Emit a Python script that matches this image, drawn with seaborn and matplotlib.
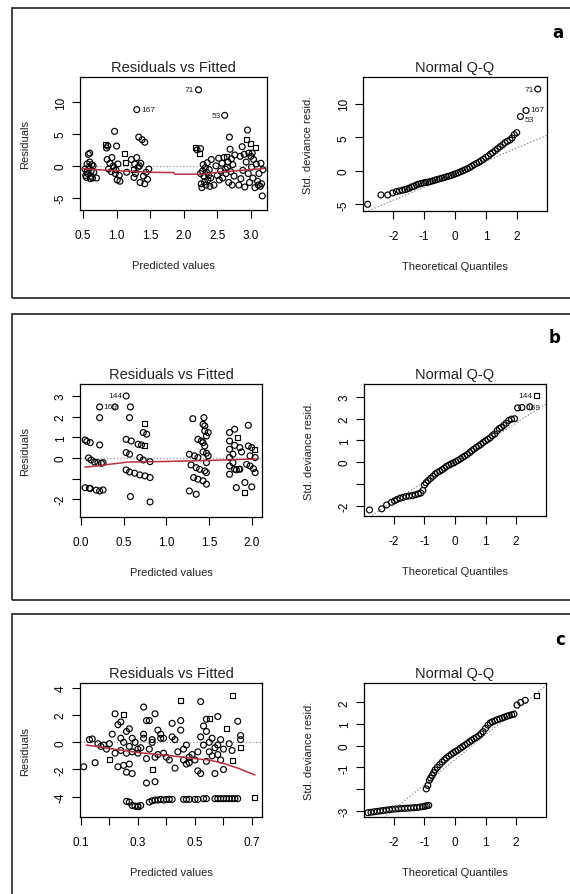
import matplotlib
matplotlib.use("Agg")
import matplotlib.pyplot as plt
import seaborn as sns
import pandas as pd
from matplotlib.patches import Rectangle

# === data ===
# panel a - residuals vs fitted
a_pts = [
    (0.53, -0.5), (0.55, -1.8), (0.56, 0.3), (0.57, -1.2), (0.58, 1.8), (0.60, 2.0), (0.61, -2.0),
    (0.62, -0.8), (0.63, 0.2), (0.54, -1.5), (0.59, -0.2), (0.64, -1.9), (0.66, -1.0), (0.60, 0.6),
    (0.62, -1.6), (0.70, -1.9), (0.56, -0.9), (0.65, 0.0),
    (0.85, 2.8), (0.87, 3.1), (0.86, 1.0), (0.88, -0.5), (0.90, 0.4), (0.92, -0.9), (0.95, 0.0),
    (0.97, 5.4), (0.98, -1.2), (1.00, 3.1), (1.01, -2.2), (1.02, 0.3), (1.04, -1.5), (0.96, -0.3),
    (0.93, 1.3), (1.05, -2.4), (0.99, -0.6),
    (1.15, -1.0), (1.22, 1.0), (1.27, 0.3), (1.28, -1.2), (1.30, 8.8), (1.30, 1.3),
    (1.32, -0.2), (1.33, 4.5), (1.35, -2.6), (1.36, 0.4), (1.38, 4.1), (1.40, -1.6), (1.42, 3.7),
    (1.42, -2.8), (1.44, -1.0), (1.46, -2.1), (1.48, -0.5), (1.26, -1.8), (1.34, 0.0),
    (2.20, 2.5), (2.22, 11.9), (2.25, 2.7), (2.25, -1.2), (2.26, -2.8), (2.27, -3.4),
    (2.28, -0.8), (2.29, 0.2), (2.30, -1.6), (2.31, -2.5), (2.32, -0.3), (2.33, -3.0), (2.34, -1.0),
    (2.35, 0.5), (2.36, -2.2), (2.37, -1.5), (2.38, -0.6), (2.40, -1.9), (2.41, 1.0), (2.39, -3.2),
    (2.45, -3.0), (2.48, 0.0), (2.50, -1.5), (2.52, 1.2), (2.53, -2.2), (2.55, -0.8), (2.57, 0.4),
    (2.58, -1.9), (2.60, 1.3), (2.61, 7.9), (2.62, -0.5), (2.63, -1.2), (2.66, 0.6),
    (2.67, -2.6), (2.68, 4.5), (2.69, 2.6), (2.70, -0.9), (2.71, 1.1), (2.72, -3.0), (2.73, 0.2),
    (2.75, -1.6), (2.76, 1.7), (2.65, -0.2),
    (2.82, -3.0), (2.84, 1.5), (2.85, -2.0), (2.87, 3.0), (2.88, -0.7), (2.90, 1.8), (2.91, -3.3),
    (2.93, 0.6), (2.95, 5.6), (2.96, -1.2), (2.97, 2.0), (2.98, -2.6), (3.00, 1.5),
    (3.01, -0.2), (3.02, 2.0), (3.03, -1.9), (3.04, 1.0), (3.06, -3.4), (3.08, 0.3),
    (3.10, -2.4), (3.12, -1.2), (3.14, -3.2), (3.15, 0.4), (3.16, -2.8), (3.17, -4.7), (3.18, -0.6),
    (3.11, -3.0),
]
a_sq = [(0.83, 3.4), (1.12, 2.0), (1.13, 0.5), (1.25, -0.5), (2.17, 2.8), (2.23, 2.0),
        (2.64, 1.4), (2.93, 4.1), (3.00, 3.5), (3.07, 2.8)]
a_lowess = [(0.5, -0.45), (0.8, -0.65), (1.2, -0.85), (1.5, -1.0), (1.85, -1.05), (1.87, -1.3),
            (2.3, -1.3), (2.5, -1.0), (2.8, -0.75), (3.2, -0.4)]
a_labels = [(1.30, 8.8, "167", "right"), (2.22, 11.9, "71", "left"), (2.61, 7.9, "53", "left")]

# panel a - normal Q-Q
a_qq = [
    (-2.83, -5.0), (-2.40, -3.6), (-2.18, -3.6), (-2.02, -3.3), (-1.90, -3.1), (-1.80, -3.0),
    (-1.70, -2.9), (-1.62, -2.8), (-1.55, -2.7), (-1.48, -2.6), (-1.40, -2.4), (-1.32, -2.3),
    (-1.25, -2.1), (-1.18, -2.0), (-1.10, -1.9), (-1.02, -1.8), (-0.95, -1.75), (-0.88, -1.7),
    (-0.80, -1.6), (-0.72, -1.5), (-0.65, -1.4), (-0.58, -1.3), (-0.50, -1.2), (-0.42, -1.1),
    (-0.35, -1.0), (-0.28, -0.9), (-0.20, -0.8), (-0.12, -0.7), (-0.05, -0.55), (0.02, -0.45),
    (0.10, -0.3), (0.18, -0.15), (0.25, 0.0), (0.32, 0.15), (0.40, 0.3), (0.48, 0.5),
    (0.55, 0.7), (0.62, 0.9), (0.70, 1.1), (0.78, 1.3), (0.85, 1.5), (0.92, 1.7),
    (1.00, 2.0), (1.08, 2.2), (1.15, 2.5), (1.22, 2.7), (1.30, 3.0), (1.38, 3.3),
    (1.46, 3.6), (1.55, 3.9), (1.62, 4.2), (1.70, 4.4), (1.78, 4.6), (1.85, 4.9),
    (1.92, 5.4), (2.00, 5.7), (2.12, 8.1), (2.30, 9.0), (2.68, 12.2),
]
a_qq_ref = [(-3.0, -6.35), (3.0, 5.35)]
a_qq_labels = [(2.68, 12.2, "71", "left"), (2.30, 9.2, "167", "right"), (2.12, 7.7, "53", "right")]

# panel b - residuals vs fitted
b_pts = [
    (0.05, 0.87), (0.07, 0.80), (0.11, 0.74), (0.09, 0.00), (0.12, -0.10), (0.16, -0.20),
    (0.20, -0.23), (0.24, -0.26), (0.26, -0.23), (0.22, 0.63), (0.22, 1.95), (0.05, -1.44),
    (0.10, -1.47), (0.11, -1.48), (0.18, -1.56), (0.22, -1.60), (0.26, -1.55), (0.22, 2.47),
    (0.40, 2.47),
    (0.53, 3.00), (0.58, 2.47), (0.57, 1.95), (0.53, 0.90), (0.59, 0.82), (0.67, 0.66),
    (0.71, 0.63), (0.73, 1.23), (0.77, 1.15), (0.53, 0.26), (0.57, 0.18), (0.69, 0.02),
    (0.73, -0.10), (0.81, -0.18), (0.53, -0.58), (0.57, -0.68), (0.63, -0.74), (0.69, -0.82),
    (0.75, -0.87), (0.81, -0.95), (0.58, -1.87), (0.81, -2.13),
    (1.31, 1.90), (1.44, 1.95), (1.43, 1.63), (1.45, 1.55), (1.47, 1.06), (1.49, 1.23),
    (1.37, 0.90), (1.41, 0.82), (1.43, 0.74), (1.45, 0.58), (1.27, 0.18), (1.33, 0.10),
    (1.37, 0.02), (1.43, 0.29), (1.47, 0.23), (1.49, 0.10), (1.29, -0.34), (1.35, -0.47),
    (1.39, -0.55), (1.45, -0.63), (1.47, -0.71), (1.32, -0.95), (1.37, -1.03), (1.43, -1.11),
    (1.47, -1.27), (1.27, -1.60), (1.35, -1.76), (1.47, -0.23), (1.45, 1.31),
    (1.74, 1.23), (1.80, 1.39), (1.74, 0.82), (1.80, 0.61), (1.86, 0.50), (1.74, 0.42),
    (1.78, 0.18), (1.88, 0.29), (1.96, 1.58), (1.96, 0.58), (2.00, 0.50), (1.98, 0.10),
    (2.04, 0.02), (1.74, -0.39), (1.80, -0.55), (1.82, -0.58), (1.86, -0.55), (1.94, -0.31),
    (1.98, -0.39), (2.02, -0.52), (2.04, -0.71), (1.74, -0.79), (1.82, -1.44), (1.92, -1.19),
    (2.00, -1.40), (1.78, -0.23), (1.74, 0.02),
]
b_sq = [(0.74, 1.68), (0.75, 0.58), (1.83, 0.98), (1.92, -1.68), (2.03, 0.40), (1.85, -0.50)]
b_lowess = [(0.05, -0.45), (0.2, -0.38), (0.35, -0.3), (0.55, -0.2), (1.0, -0.17),
            (1.5, -0.12), (2.05, -0.05)]
b_labels = [(0.53, 3.0, "144", "left"), (0.22, 2.47, "169", "right")]

# panel b - normal Q-Q
b_qq = [
    (-2.80, -2.20), (-2.40, -2.15), (-2.24, -1.97), (-2.08, -1.85), (-1.98, -1.78), (-1.90, -1.72),
    (-1.80, -1.66), (-1.70, -1.62), (-1.60, -1.58), (-1.50, -1.56), (-1.40, -1.54), (-1.30, -1.50),
    (-1.20, -1.46), (-1.12, -1.42), (-1.05, -1.30), (-1.00, -1.05), (-0.95, -0.95), (-0.88, -0.85),
    (-0.80, -0.75), (-0.72, -0.65), (-0.65, -0.55), (-0.58, -0.48), (-0.50, -0.42), (-0.42, -0.35),
    (-0.35, -0.28), (-0.28, -0.20), (-0.20, -0.14), (-0.12, -0.08), (-0.05, -0.04), (0.02, 0.02),
    (0.10, 0.08), (0.18, 0.15), (0.25, 0.22), (0.32, 0.28), (0.40, 0.35), (0.48, 0.44),
    (0.55, 0.52), (0.62, 0.60), (0.70, 0.68), (0.78, 0.75), (0.85, 0.82), (0.92, 0.90),
    (1.00, 0.98), (1.08, 1.05), (1.15, 1.12), (1.22, 1.22), (1.30, 1.30), (1.38, 1.45),
    (1.45, 1.55), (1.52, 1.60), (1.60, 1.70), (1.68, 1.80), (1.76, 1.92), (1.85, 1.98),
    (1.95, 2.00), (2.05, 2.50), (2.19, 2.52), (2.45, 2.55),
]
b_qq_sq = [(2.68, 3.05)]
b_qq_ref = [(-3.0, -2.7), (3.0, 2.7)]
b_qq_labels = [(2.68, 3.05, "144", "left"), (2.19, 2.52, "169", "right")]

# panel c - residuals vs fitted
c_pts = [
    (0.11, -1.8), (0.13, 0.2), (0.14, 0.25), (0.15, -1.5), (0.16, -0.1), (0.17, -0.3), (0.18, -0.2),
    (0.19, -0.5), (0.20, -0.1), (0.21, 0.6), (0.22, 2.1), (0.22, -0.8), (0.23, 1.3),
    (0.23, -1.8), (0.24, 0.3), (0.24, 1.5), (0.24, -0.6), (0.25, -1.7), (0.25, 0.0),
    (0.26, 0.8), (0.26, -0.8), (0.26, -2.2), (0.27, 1.0), (0.27, -0.3), (0.27, -1.6), (0.28, -2.3),
    (0.28, 0.3), (0.28, -0.7), (0.29, 0.0), (0.30, -0.5), (0.30, -0.8), (0.31, -0.4), (0.32, 0.6),
    (0.32, 2.6), (0.32, 0.3), (0.33, 1.6), (0.33, -1.2), (0.33, -3.0), (0.34, 1.6), (0.34, -0.5),
    (0.35, 0.2), (0.35, 0.0), (0.36, -1.1), (0.36, 2.1), (0.36, -2.9), (0.37, 0.9), (0.37, -0.9),
    (0.38, 0.3), (0.38, 0.6), (0.39, 0.3), (0.39, -0.8), (0.40, -1.1), (0.41, -1.3), (0.42, 0.4),
    (0.42, 1.4), (0.43, -1.9), (0.43, 0.2), (0.44, -0.7), (0.45, 0.9), (0.45, 1.6),
    (0.46, -1.3), (0.46, -0.5), (0.47, -1.6), (0.47, -0.2), (0.48, -1.1), (0.48, -1.5),
    (0.49, -0.9), (0.50, -1.3), (0.51, -2.1), (0.51, -0.7), (0.52, 3.0), (0.52, 0.4), (0.52, -2.3),
    (0.53, 1.2), (0.53, -0.2), (0.54, 0.8), (0.54, 1.7), (0.54, -1.4), (0.55, 0.0),
    (0.55, -0.7), (0.56, -1.0), (0.56, 0.3), (0.57, -0.4), (0.57, -2.3), (0.58, 1.9), (0.58, -0.2),
    (0.58, -0.9), (0.59, 0.2), (0.59, -1.3), (0.60, -2.0), (0.60, -0.5), (0.62, -0.1),
    (0.63, -0.6), (0.65, 1.55), (0.66, 0.5), (0.66, 0.2),
    (0.26, -4.35), (0.27, -4.4), (0.28, -4.65), (0.29, -4.7), (0.30, -4.7), (0.31, -4.65),
    (0.34, -4.4), (0.35, -4.3), (0.36, -4.25), (0.37, -4.25), (0.38, -4.2), (0.39, -4.25),
    (0.40, -4.2), (0.41, -4.2), (0.42, -4.2), (0.46, -4.2), (0.47, -4.2), (0.48, -4.2),
    (0.50, -4.2), (0.51, -4.2), (0.53, -4.15), (0.54, -4.15), (0.57, -4.15), (0.58, -4.15),
    (0.59, -4.15), (0.60, -4.15), (0.61, -4.15), (0.62, -4.15), (0.63, -4.15), (0.64, -4.15),
    (0.65, -4.15),
]
c_sq = [(0.45, 3.1), (0.63, 3.45), (0.61, 1.05), (0.63, -1.35), (0.35, -2.0), (0.25, 2.05),
        (0.20, -1.25), (0.55, 1.75), (0.66, -0.4), (0.71, -4.05), (0.30, -4.75)]
c_lowess = [(0.12, -0.2), (0.2, -0.45), (0.3, -0.75), (0.4, -0.95), (0.5, -1.2), (0.55, -1.3),
            (0.6, -1.55), (0.65, -1.9), (0.71, -2.4)]

# panel c - normal Q-Q
c_qq = [
    (-2.85, -3.10), (-2.75, -3.08), (-2.65, -3.06), (-2.55, -3.04), (-2.45, -3.02), (-2.35, -3.00),
    (-2.25, -2.98), (-2.15, -2.96), (-2.05, -2.94), (-1.95, -2.93), (-1.85, -2.92), (-1.75, -2.91),
    (-1.65, -2.90), (-1.55, -2.89), (-1.45, -2.88), (-1.35, -2.87), (-1.25, -2.86), (-1.15, -2.84),
    (-1.05, -2.82), (-0.98, -2.80), (-0.92, -2.78), (-0.86, -2.76),
    (-0.94, -2.00), (-0.89, -1.84), (-0.84, -1.60), (-0.80, -1.50), (-0.75, -1.38), (-0.70, -1.25),
    (-0.65, -1.12), (-0.58, -1.00), (-0.50, -0.88), (-0.42, -0.76), (-0.35, -0.66), (-0.28, -0.57),
    (-0.20, -0.48), (-0.12, -0.40), (-0.05, -0.33), (0.02, -0.27), (0.10, -0.20), (0.18, -0.12),
    (0.25, -0.05), (0.32, 0.02), (0.40, 0.10), (0.48, 0.18), (0.55, 0.25), (0.62, 0.32),
    (0.70, 0.38), (0.78, 0.46), (0.85, 0.55), (0.92, 0.65), (1.00, 0.80), (1.08, 0.95),
    (1.15, 1.05), (1.22, 1.10), (1.30, 1.15), (1.38, 1.20), (1.46, 1.24), (1.55, 1.28),
    (1.62, 1.32), (1.70, 1.36), (1.78, 1.40), (1.86, 1.43), (1.93, 1.46), (2.03, 1.88),
    (2.15, 2.00), (2.30, 2.10),
]
c_qq_sq = [(2.68, 2.34)]
c_qq_ref = [(-3.0, -4.1), (3.0, 2.8)]

plt.rcParams["font.family"] = ["Liberation Sans", "DejaVu Sans"]
plt.rcParams["axes.unicode_minus"] = False

W, H = 570, 895
fig = plt.figure(figsize=(W / 100, H / 100), dpi=100)
fig.patch.set_facecolor("white")


def px_axes(l, t, r, b):
    return fig.add_axes([l / W, 1 - b / H, (r - l) / W, (b - t) / H])


def scatter(ax, pts, marker, s):
    if not pts:
        return
    df = pd.DataFrame(pts, columns=["x", "y"])
    sns.scatterplot(data=df, x="x", y="y", ax=ax, marker=marker, s=s,
                    facecolor="none", edgecolor="black", linewidth=0.85, zorder=3)


def line(ax, pts, **kw):
    df = pd.DataFrame(pts, columns=["x", "y"])
    sns.lineplot(data=df, x="x", y="y", ax=ax, sort=False, estimator=None, **kw)


def label_points(ax, labels):
    for x, y, txt, side in labels:
        dx = 3 if side == "right" else -3
        ax.annotate(txt, (x, y), xytext=(dx, 0), textcoords="offset points",
                    ha="left" if side == "right" else "right", va="center",
                    fontsize=6, color="#222222")


def style(ax, box, title, xlab, ylab, xlim, ylim, xt, xtl, yt, ytl):
    l, t, r, b = box
    ax.set_xlim(xlim)
    ax.set_ylim(ylim)
    ax.set_xticks(xt)
    ax.set_xticklabels(xtl)
    ax.set_yticks(yt)
    ax.set_yticklabels(ytl, rotation=90, va="center")
    ax.tick_params(direction="out", length=5.5, width=0.8, labelsize=8.5, colors="black")
    ax.tick_params(axis="x", pad=8)
    ax.tick_params(axis="y", pad=4)
    for sp in ax.spines.values():
        sp.set_linewidth(0.9)
        sp.set_color("black")
    ax.set_title(title, fontsize=10.5, pad=4, color="#222222")
    ax.set_xlabel(xlab, fontsize=8, color="#222222")
    ax.set_ylabel(ylab, fontsize=8, color="#222222")
    ax.xaxis.set_label_coords(0.5, -55 / (b - t))
    ax.xaxis.label.set_va("center")
    ax.yaxis.set_label_coords(-55 / (r - l), 0.5)
    ax.yaxis.label.set_va("center")


def resid_panel(box, pts, sq, lowess, labels, xlim, ylim, xt, xtl, yt, ytl):
    ax = px_axes(*box)
    ax.axhline(0, color="#9a9a9a", ls=":", lw=0.9, zorder=1)
    scatter(ax, pts, "o", 18)
    scatter(ax, sq, "s", 13)
    line(ax, lowess, color="#b5313f", lw=1.1, zorder=4)
    label_points(ax, labels)
    style(ax, box, "Residuals vs Fitted", "Predicted values", "Residuals",
          xlim, ylim, xt, xtl, yt, ytl)


def qq_panel(box, pts, sq, ref, labels, ylim, yt, ytl):
    ax = px_axes(*box)
    line(ax, ref, color="#8a8a8a", lw=0.9, ls=":", zorder=1)
    scatter(ax, pts, "o", 18)
    scatter(ax, sq, "s", 13)
    label_points(ax, labels)
    style(ax, box, "Normal Q-Q", "Theoretical Quantiles", "Std. deviance resid.",
          (-2.98, 2.98), ylim, [-2, -1, 0, 1, 2], ["-2", "-1", "0", "1", "2"], yt, ytl)


# outer frames of the three figure parts
for top, bottom in [(9, 299), (315, 601), (615, 900)]:
    fig.patches.append(Rectangle((12 / W, 1 - bottom / H), (575 - 12) / W, (bottom - top) / H,
                                 transform=fig.transFigure, fill=False,
                                 edgecolor="#333333", lw=1.3))

resid_panel((80, 78, 267, 211), a_pts, a_sq, a_lowess, a_labels,
            (0.455, 3.24), (-6.9, 13.9),
            [0.5, 1.0, 1.5, 2.0, 2.5, 3.0], ["0.5", "1.0", "1.5", "2.0", "2.5", "3.0"],
            [-5, 0, 5, 10], ["-5", "0", "5", "10"])
qq_panel((363, 78, 547, 212), a_qq, [], a_qq_ref, a_qq_labels,
         (-6.0, 14.0), [-5, 0, 5, 10], ["-5", "0", "5", "10"])

resid_panel((80, 385, 262, 518), b_pts, b_sq, b_lowess, b_labels,
            (-0.01, 2.12), (-2.86, 3.58),
            [0.0, 0.5, 1.0, 1.5, 2.0], ["0.0", "0.5", "1.0", "1.5", "2.0"],
            [-2, -1, 0, 1, 2, 3], ["-2", "", "0", "1", "2", "3"])
qq_panel((364, 385, 546, 517), b_qq, b_qq_sq, b_qq_ref, b_qq_labels,
         (-2.48, 3.6), [-2, -1, 0, 1, 2, 3], ["-2", "", "0", "1", "2", "3"])

resid_panel((80, 684, 262, 818), c_pts, c_sq, c_lowess, [],
            (0.097, 0.735), (-5.5, 4.37),
            [0.1, 0.2, 0.3, 0.4, 0.5, 0.6, 0.7], ["0.1", "", "0.3", "", "0.5", "", "0.7"],
            [-4, -2, 0, 2, 4], ["-4", "-2", "0", "2", "4"])
qq_panel((364, 684, 546, 818), c_qq, c_qq_sq, c_qq_ref, [],
         (-3.3, 2.9), [-3, -2, -1, 0, 1, 2], ["-3", "", "-1", "0", "1", "2"])

for x, y, letter in [(558, 33, "a"), (555, 338, "b"), (560, 640, "c")]:
    fig.text(x / W, 1 - y / H, letter, fontsize=12, fontweight="bold",
             ha="center", va="center", family="DejaVu Sans")

fig.savefig("out.png", dpi=100, facecolor="white")
